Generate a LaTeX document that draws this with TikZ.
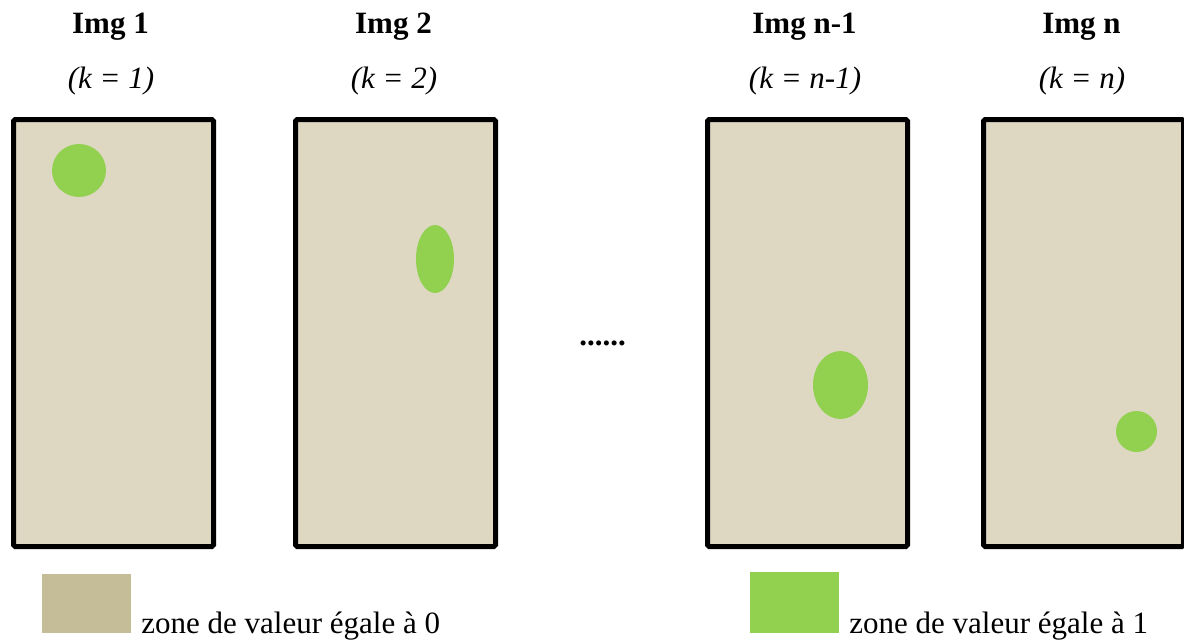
\documentclass[tikz,border=0pt]{standalone}
\usepackage{fontspec}
\setmainfont{Liberation Serif}
\definecolor{sand}{HTML}{DED8C3}
\definecolor{sanddark}{HTML}{C4BD97}
\definecolor{leaf}{HTML}{92D050}
\tikzset{
  imgbox/.style={draw=black, line width=2.5pt, fill=sand, rounded corners=0.8pt,
    minimum width=100pt, minimum height=213.5pt, inner sep=0pt},
  blob/.style={fill=leaf},
  title/.style={font=\fontsize{15.5}{18}\selectfont\bfseries, anchor=base, inner sep=0pt},
  sub/.style={font=\fontsize{15.5}{18}\selectfont\itshape, anchor=base, inner sep=0pt},
  legtext/.style={font=\fontsize{15.5}{18}\selectfont, anchor=base west, inner sep=0pt},
  legbox/.style={inner sep=0pt, minimum width=44.5pt, minimum height=29.5pt}
}
\begin{document}
\begin{tikzpicture}[x=0.5pt, y=-0.5pt]
\useasboundingbox (0,0) rectangle (1184,643);
\begin{scope}
\clip (0,0) rectangle (1184,643);
% boxes
\node[imgbox] (b1) at (113.5,333) {};
\node[imgbox] (b2) at (395.5,333) {};
\node[imgbox] (b3) at (807.5,333) {};
\node[imgbox] (b4) at (1083.5,333) {};
\end{scope}
% green zones
\fill[blob] (79,170.5) ellipse [x radius=27, y radius=26.5];
\fill[blob] (435,259) ellipse [x radius=19, y radius=34];
\fill[blob] (840.5,385) ellipse [x radius=27.5, y radius=34];
\fill[blob] (1136.5,431.5) ellipse [x radius=20.5, y radius=20.5];
% titles
\node[title] (t1) at (110.5,33) {Img 1};
\node[title] (t2) at (393.5,33) {Img 2};
\node[title] (t3) at (804.5,33) {Img n-1};
\node[title] (t4) at (1081.5,33) {Img n};
\node[sub] (s1) at (111,88) {(k = 1)};
\node[sub] (s2) at (394,88) {(k = 2)};
\node[sub] (s3) at (805,88) {(k = n-1)};
\node[sub] (s4) at (1082,88) {(k = n)};
% dots
\node[font=\fontsize{15.5}{18}\selectfont\bfseries, anchor=base west, inner sep=0pt] (dots) at (579,345) {......};
% legend
\node[legbox, fill=sanddark] (l0) at (86.5,603.5) {};
\node[legtext] (lt0) at (141,633) {zone de valeur égale à 0};
\node[legbox, fill=leaf, minimum height=30.5pt] (l1) at (794.5,602.5) {};
\node[legtext] (lt1) at (849,633) {zone de valeur égale à 1};
\end{tikzpicture}
\end{document}
